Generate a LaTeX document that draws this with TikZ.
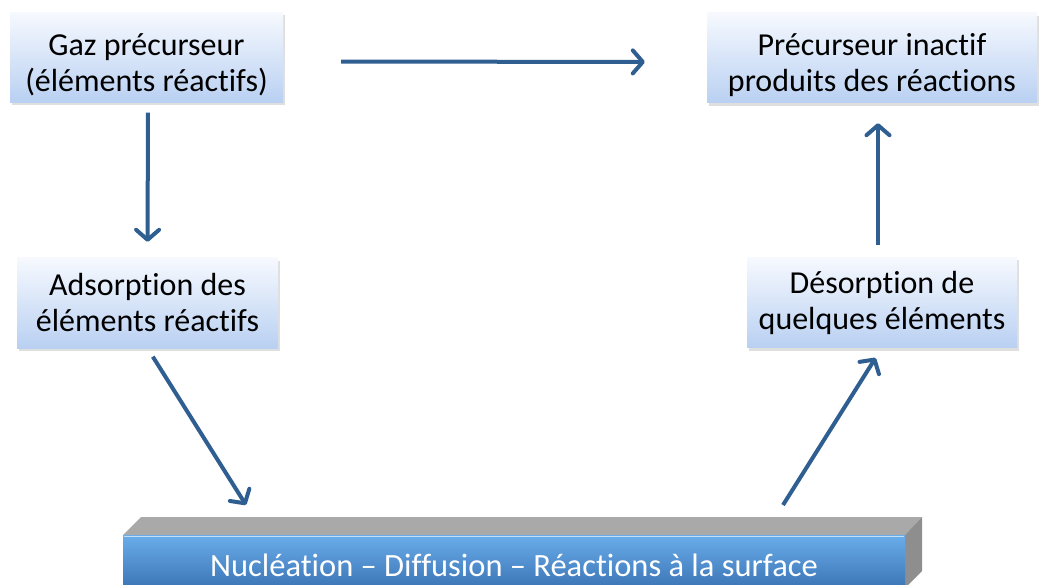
\documentclass[tikz,border=0pt]{standalone}
\usepackage{fontspec}
\setmainfont[Ligatures=NoCommon]{Carlito}
\usetikzlibrary{positioning,arrows.meta,shadows}
\definecolor{arrowblue}{HTML}{2F5E91}
\definecolor{boxtop}{HTML}{F6F9FE}
\definecolor{boxbot}{HTML}{B9D0F2}
\definecolor{surftop}{HTML}{6AADEB}
\definecolor{surfbot}{HTML}{3B79C3}
\definecolor{facetop}{HTML}{A9A9A9}
\definecolor{faceside}{HTML}{8E8E8E}
\newcommand{\padtop}{\rule{0pt}{36pt}}

\begin{document}
\begin{tikzpicture}[x=1pt, y=-1pt,
    bx/.style={minimum width=#1, minimum height=90pt, inner sep=0pt,
               top color=boxtop, bottom color=boxbot, align=center,
               font=\fontsize{32}{36}\selectfont,
               drop shadow={shadow xshift=1.5pt, shadow yshift=-3pt, opacity=0.25}},
    ar/.style={-{Straight Barb[length=10pt,width=23pt,round]}, line width=4pt,
               arrowblue},
]
\useasboundingbox (0,0) rectangle (1041,585);

% === Top row ===
\node[bx=273pt] at (146.5,57.5) (gaz) {\padtop Gaz précurseur\\(éléments réactifs)};
\node[bx=330pt] at (872,58) (prod) {\padtop Précurseur inactif\\produits des réactions};

% === Middle row ===
\node[bx=261pt] at (147.5,303) (ads) {Adsorption des\\éléments réactifs};
\node[bx=270pt] at (882,302.5) (des) {Désorption de\\quelques éléments};

% === Bottom: surface block ===
\fill[facetop] (123,535) -- (141,517) -- (922,517) -- (905,535) -- cycle;
\fill[faceside] (905,535) -- (922,517) -- (922,571) -- (905,588) -- cycle;
\node[minimum width=782pt, minimum height=60pt, inner sep=0pt,
      top color=surftop, bottom color=surfbot!90!black, text=white,
      font=\fontsize{32.5}{35}\selectfont] at (514,565) (surf)
      {Nucléation – Diffusion – Réactions à la surface};
\draw[white!60!surftop, line width=1.5pt] (124,536.5) -- (904,536.5);
\coordinate (sL) at (246,505);
\coordinate (sR) at (783,505);

% --- Arrows ---
\draw[ar, shorten <=58pt, shorten >=62pt] ([yshift=-4pt]gaz.east) -- ([yshift=-4pt]prod.west);
\draw[ar, shorten <=10pt, shorten >=16pt] ([xshift=1.5pt]gaz.south) -- (ads.north);
\draw[ar, shorten <=12pt, shorten >=20pt] ([xshift=-4pt]des.north) -- ([xshift=6pt]prod.south);
\draw[ar, shorten <=10pt] (ads.south) -- (sL);
\draw[ar, shorten >=12pt] (sR) -- (des.south);

\end{tikzpicture}
\end{document}
